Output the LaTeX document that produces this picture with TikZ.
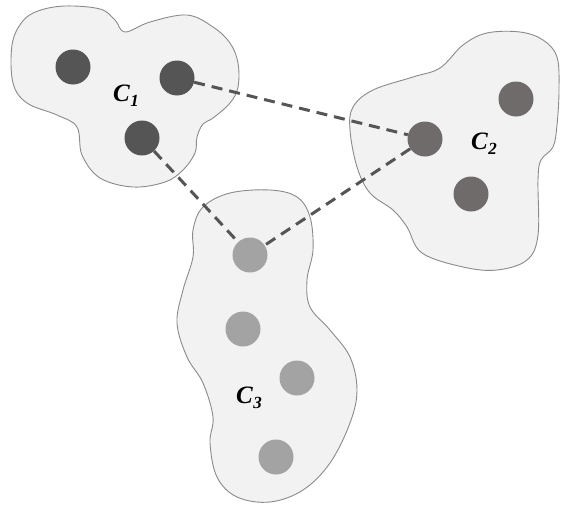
\documentclass[tikz,border=0pt]{standalone}
\usepackage{fontspec}
\setmainfont{Liberation Serif}
\newcommand{\clsub}[1]{\kern0.5pt\raisebox{-5pt}{\fontsize{17}{17}\selectfont #1}}
\begin{document}
\begin{tikzpicture}[x=1pt,y=-1pt,
  blob/.style={fill=blobfill,draw=blobline,line width=0.9pt},
  dotA/.style={circle,fill=dotone,minimum size=35pt,inner sep=0pt},
  dotB/.style={circle,fill=dottwo,minimum size=35pt,inner sep=0pt},
  dotC/.style={circle,fill=dotthree,minimum size=35pt,inner sep=0pt},
  link/.style={draw=linkc,line width=3pt,dash pattern=on 11pt off 7pt},
  lbl/.style={font=\fontsize{25}{28}\selectfont\bfseries\itshape,inner sep=0pt}]
\definecolor{blobfill}{HTML}{F2F2F2}
\definecolor{blobline}{HTML}{8A8A8A}
\definecolor{dotone}{HTML}{555555}
\definecolor{dottwo}{HTML}{706B6B}
\definecolor{dotthree}{HTML}{A3A3A3}
\definecolor{linkc}{HTML}{555555}
\useasboundingbox (0,0) rectangle (562,506);
% cluster outlines
\draw[blob] plot[smooth cycle,tension=0.6] coordinates {
 (12,45) (22,22) (38,11) (65,6) (100,9) (115,20) (125,32) (150,22) (187,15)
 (213,27) (230,43) (238,63) (238,87) (230,103) (213,118) (203,124) (197,137)
 (195,153) (183,170) (165,182) (133,187) (100,178) (82,155) (77,127) (57,115)
 (27,103) (13,83)};
\draw[blob] plot[smooth cycle,tension=0.6] coordinates {
 (353,107) (373,90) (413,77) (440,68) (463,45) (487,33) (520,32) (543,40)
 (557,57) (559,90) (557,125) (553,147) (541,160) (538,180) (538,235) (527,260)
 (497,270) (463,267) (422,253) (407,227) (393,210) (370,193) (357,167) (350,130)};
\draw[blob] plot[smooth cycle,tension=0.6] coordinates {
 (203,207) (230,193) (270,190) (297,197) (310,217) (313,250) (307,280) (310,307)
 (330,330) (350,357) (357,390) (350,423) (330,463) (303,490) (270,502) (237,497)
 (217,477) (210,443) (213,417) (203,383) (187,357) (177,323) (183,290) (193,257)
 (193,230)};
% dots
\node[dotA] (a1) at (73,67) {};
\node[dotA] (a2) at (177,78) {};
\node[dotA] (a3) at (142,138) {};
\node[dotB] (b1) at (516,99) {};
\node[dotB] (b2) at (425,139) {};
\node[dotB] (b3) at (471,194) {};
\node[dotC] (c1) at (250,255) {};
\node[dotC] (c2) at (243,329) {};
\node[dotC] (c3) at (297,378) {};
\node[dotC] (c4) at (276,457) {};
% labels
\node[lbl] (l1) at (126,96) {C\clsub{1}};
\node[lbl] (l2) at (484,144) {C\clsub{2}};
\node[lbl] (l3) at (249,398) {C\clsub{3}};
% links
\draw[link] (a2) -- (b2);
\draw[link] (a3) -- (c1);
\draw[link] (b2) -- (c1);
\end{tikzpicture}
\end{document}
